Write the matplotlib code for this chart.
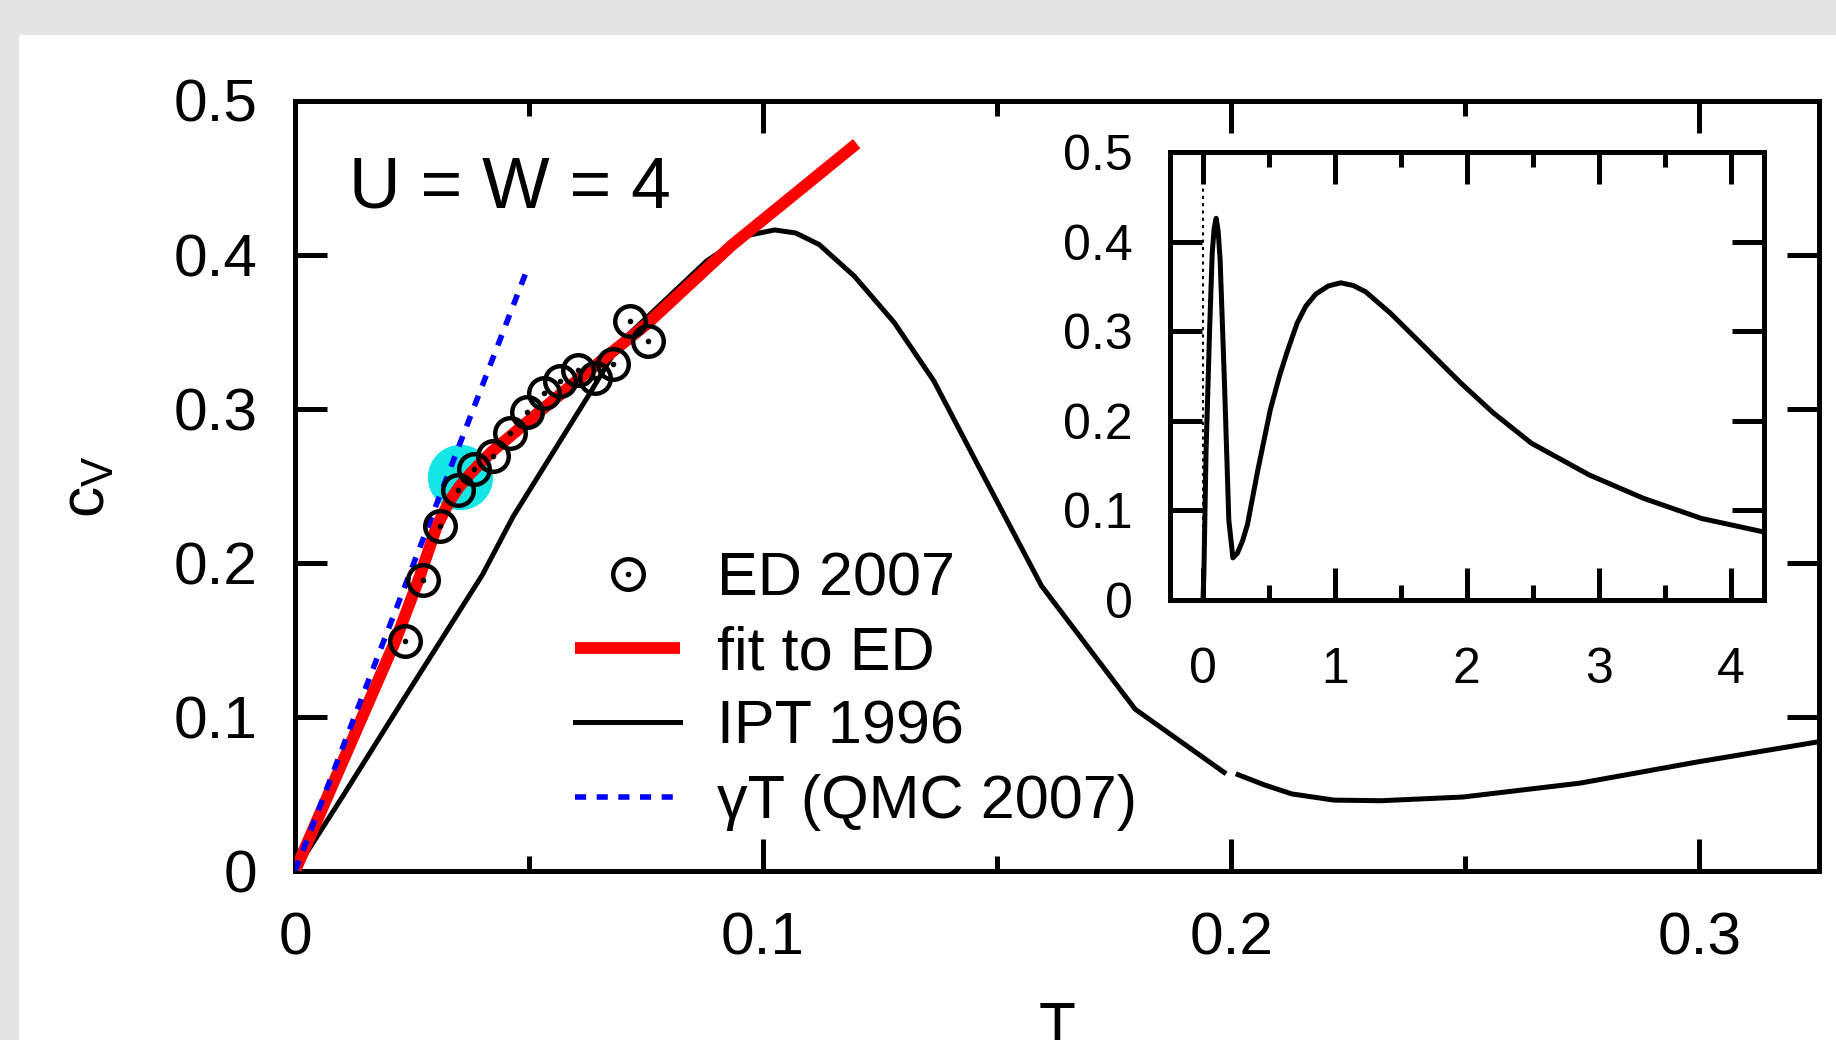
import numpy as np
import matplotlib
matplotlib.use("Agg")
import matplotlib.pyplot as plt
from matplotlib.patches import Rectangle
from matplotlib.legend_handler import HandlerTuple
from matplotlib.ticker import MultipleLocator

plt.rcParams['font.family'] = ['Liberation Sans', 'DejaVu Sans']
plt.rcParams['mathtext.fontset'] = 'custom'
plt.rcParams['mathtext.rm'] = 'Liberation Sans'

# ---------------- data ----------------
# ED 2007 data points
ed_T = [0.0235, 0.0273, 0.0310, 0.0349, 0.0383, 0.0422, 0.0459, 0.0495,
        0.0531, 0.0566, 0.0605, 0.0641, 0.0680, 0.0716, 0.0754]
ed_cv = [0.149, 0.189, 0.224, 0.247, 0.261, 0.269, 0.284, 0.298,
         0.310, 0.318, 0.325, 0.320, 0.329, 0.357, 0.344]

# highlighted ED point
hl_T = [0.0353]
hl_cv = [0.2555]

# fit to ED
fit_T = [0.0, 0.0214, 0.0264, 0.0303, 0.0330, 0.0350, 0.0375, 0.0420, 0.0609,
         0.0752, 0.0933, 0.120]
fit_cv = [0.0, 0.149, 0.189, 0.2237, 0.240, 0.249, 0.258, 0.272, 0.320,
          0.355, 0.406, 0.472]

# IPT 1996 (main panel), gap near T = 0.2
ipt_T = [0.0, 0.0103, 0.0231, 0.040, 0.0466, 0.063, 0.0695, 0.088, 0.0960, 0.1025,
         0.107, 0.112, 0.1195, 0.128, 0.1365, 0.1458, 0.1595, 0.1795, 0.1985,
         np.nan,
         0.2015, 0.207, 0.213, 0.222, 0.232, 0.2495, 0.2745, 0.2995, 0.325]
ipt_cv = [0.0, 0.049, 0.111, 0.192, 0.230, 0.310, 0.343, 0.396, 0.412, 0.416,
          0.414, 0.4065, 0.386, 0.356, 0.318, 0.264, 0.185, 0.105, 0.064,
          np.nan,
          0.0625, 0.056, 0.050, 0.046, 0.0456, 0.048, 0.057, 0.0707, 0.0836]

# gamma*T (QMC 2007)
gam_T = [0.0, 0.0498]
gam_cv = [0.0, 0.392]

# inset: IPT over a wide range
ins_T = [0.0, 0.007, 0.023, 0.05, 0.07, 0.085, 0.10, 0.115, 0.13, 0.164, 0.196,
         0.227, 0.26, 0.30, 0.337, 0.416, 0.51, 0.58, 0.636, 0.714, 0.78, 0.856,
         0.95, 1.045, 1.14, 1.233, 1.422, 1.642, 1.956, 2.20, 2.49, 2.93, 3.34,
         3.78, 4.25]
ins_cv = [0.0, 0.030, 0.164, 0.300, 0.387, 0.415, 0.426, 0.412, 0.38, 0.238, 0.089,
          0.047, 0.052, 0.066, 0.084, 0.145, 0.212, 0.250, 0.276, 0.309, 0.328,
          0.3415, 0.3505, 0.354, 0.351, 0.344, 0.320, 0.288, 0.242, 0.209, 0.175,
          0.1395, 0.1135, 0.091, 0.076]
ins_gam_T = [0.0, 0.0]
ins_gam_cv = [0.0, 0.462]

main_xticks = [0, 0.1, 0.2, 0.3]
main_xticklabels = ['0', '0.1', '0.2', '0.3']
main_yticks = [0, 0.1, 0.2, 0.3, 0.4, 0.5]
main_yticklabels = ['0', '0.1', '0.2', '0.3', '0.4', '0.5']
ins_xticks = [0, 1, 2, 3, 4]
ins_xticklabels = ['0', '1', '2', '3', '4']
ins_yticks = [0, 0.1, 0.2, 0.3, 0.4, 0.5]
ins_yticklabels = ['0', '0.1', '0.2', '0.3', '0.4', '0.5']

# ---------------- figure ----------------
W, H = 1836, 1040
fig = plt.figure(figsize=(W / 100, H / 100), dpi=100, facecolor='#e5e5e5')
fig.patches.append(Rectangle((19 / W, 0), 1 - 19 / W, 1 - 35 / H,
                             transform=fig.transFigure, facecolor='white',
                             edgecolor='none', zorder=-10))

def px(l, r, t, b):
    return [l / W, 1 - b / H, (r - l) / W, (b - t) / H]

ax = fig.add_axes(px(295, 1818.5, 100.5, 871))
ax.set_facecolor('none')
ax.set_xlim(0, 0.3255)
ax.set_ylim(0, 0.5)

lw_frame = 3.6
for s in ax.spines.values():
    s.set_linewidth(lw_frame)

ax.plot(hl_T, hl_cv, 'o', ms=47, color='#14e6e6', mec='none', zorder=1)
ax.plot(ipt_T, ipt_cv, '-', color='black', lw=3.6, zorder=2)
fit_line, = ax.plot(fit_T, fit_cv, '-', color='#ff0000', lw=8.5, zorder=3,
                    solid_capstyle='butt')
gam_line, = ax.plot(gam_T, gam_cv, color='#0000ff', lw=4.0, dashes=(2.0, 1.9),
                    zorder=4)
ed_ring, = ax.plot(ed_T, ed_cv, 'o', ms=22, mfc='none', mec='black', mew=3.2,
                   ls='none', zorder=5)
ed_dot, = ax.plot(ed_T, ed_cv, 'o', ms=3, color='black', ls='none', zorder=5)
ipt_handle, = ax.plot([], [], '-', color='black', lw=3.6)

ax.set_xticks(main_xticks)
ax.set_xticklabels(main_xticklabels)
ax.set_yticks(main_yticks)
ax.set_yticklabels(main_yticklabels)
ax.xaxis.set_minor_locator(MultipleLocator(0.05))
ax.tick_params(which='both', direction='in', top=True, right=True,
               width=3.6, labelsize=43.5)
ax.tick_params(which='major', length=23)
ax.tick_params(which='minor', length=11)
ax.tick_params(axis='x', which='major', pad=29)
ax.tick_params(axis='y', which='major', pad=27)

ax.set_xlabel('T', fontsize=43.5, va='top')
ax.xaxis.set_label_coords(0.5, (871 - 1001) / 770.5)
ax.set_ylabel(r'$\mathregular{c_V}$', fontsize=45, va='center', ha='center')
ax.yaxis.set_label_coords((88 - 295) / 1523.5, (871 - 487) / 770.5)

ax.text(349, H - 207, 'U = W = 4', transform=None, fontsize=51.5, ha='left',
        va='baseline')

leg = ax.legend([(ed_ring, ed_dot), fit_line, ipt_handle, gam_line],
                ['ED 2007', 'fit to ED', 'IPT 1996', 'γT (QMC 2007)'],
                handler_map={tuple: HandlerTuple(ndivide=1)},
                loc='upper left', bbox_to_anchor=(575 / W, 1 - 551 / H),
                bbox_transform=fig.transFigure, frameon=False, fontsize=44,
                handlelength=1.72, handletextpad=0.6, labelspacing=0.285,
                borderpad=0, borderaxespad=0, numpoints=1)

# ---------------- inset ----------------
axi = fig.add_axes(px(1170, 1763.5, 152, 600))
axi.set_xlim(-0.25, 4.25)
axi.set_ylim(0, 0.5)
for s in axi.spines.values():
    s.set_linewidth(lw_frame)
axi.plot(ins_gam_T, ins_gam_cv, color='black', lw=1.5, dashes=(1.5, 2.0))
axi.plot(ins_T, ins_cv, '-', color='black', lw=3.6, solid_joinstyle='round')
axi.set_xticks(ins_xticks)
axi.set_xticklabels(ins_xticklabels)
axi.set_yticks(ins_yticks)
axi.set_yticklabels(ins_yticklabels)
axi.xaxis.set_minor_locator(MultipleLocator(0.5))
axi.tick_params(which='both', direction='in', top=True, right=True,
                width=3.6, labelsize=36)
axi.tick_params(which='major', length=23)
axi.tick_params(which='minor', length=11)
axi.tick_params(axis='x', which='major', pad=34)
axi.tick_params(axis='y', which='major', pad=27)

fig.savefig('out.png', dpi=100, facecolor=fig.get_facecolor())
